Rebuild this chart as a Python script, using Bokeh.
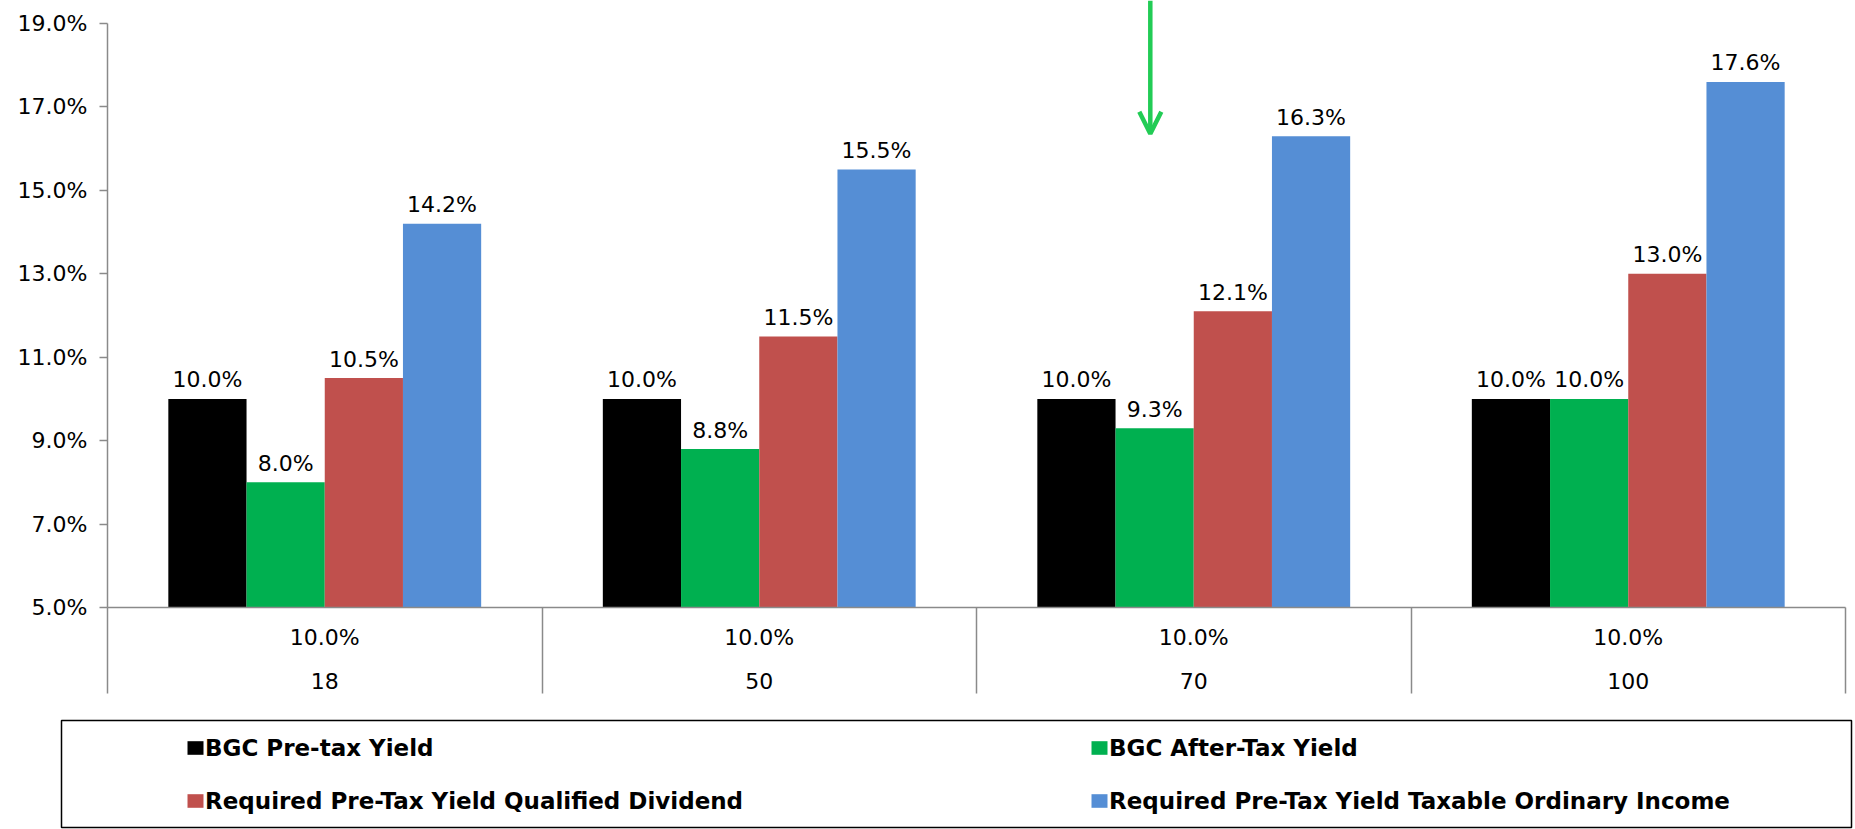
from bokeh.plotting import figure
from bokeh.models import (Range1d, LinearAxis, FixedTicker, PrintfTickFormatter,
                          Arrow, OpenHead, Legend, LegendItem, ColumnDataSource)
from bokeh.embed import file_html
from bokeh.resources import INLINE
from bokeh.core.properties import value

# ---- data -------------------------------------------------------------
categories = ["18", "50", "70", "100"]
pretax_row = ["10.0%", "10.0%", "10.0%", "10.0%"]

series_names = [
    "BGC Pre-tax Yield",
    "BGC After-Tax Yield",
    "Required Pre-Tax Yield Qualified Dividend",
    "Required Pre-Tax Yield Taxable Ordinary Income",
]
bgc_pretax = [10.0, 10.0, 10.0, 10.0]
bgc_aftertax = [8.0, 8.8, 9.3, 10.0]
req_qualified = [10.5, 11.5, 12.1, 13.0]
req_ordinary = [14.2, 15.5, 16.3, 17.6]
series_colors = ["#000000", "#00B050", "#C0504D", "#558ED5"]

y_ticks = [5, 7, 9, 11, 13, 15, 17, 19]

# ---- styling ------------------------------------------------------------
FONT = "DejaVu Sans"
AXIS_GRAY = "#8a8a8a"
ARROW_GREEN = "#22CC55"
Y_MIN, Y_MAX = 5.0, 19.553
BAR_W = 0.18
offsets = [-0.27, -0.09, 0.09, 0.27]
centers = [i + 0.5 for i in range(len(categories))]
bounds = [float(i) for i in range(len(categories) + 1)]

p = figure(width=1855, height=712,
           x_range=Range1d(0, len(categories)), y_range=Range1d(Y_MIN, Y_MAX),
           output_backend="svg", toolbar_location=None,
           x_axis_location=None, y_axis_location=None,
           min_border_left=107, min_border_right=10,
           min_border_top=0, min_border_bottom=105)
p.outline_line_color = None
p.grid.visible = False
p.background_fill_color = "white"
p.border_fill_color = "white"

# y axis: percent ticks, line stops at the top tick
yax = LinearAxis(ticker=FixedTicker(ticks=y_ticks),
                 formatter=PrintfTickFormatter(format="%.1f%%"),
                 bounds=(Y_MIN, 19))
yax.axis_line_color = AXIS_GRAY
yax.axis_line_width = 1.5
yax.major_tick_line_color = AXIS_GRAY
yax.major_tick_line_width = 1.5
yax.major_tick_out = 8
yax.major_tick_in = 0
yax.minor_tick_line_color = None
yax.major_label_standoff = 12
yax.major_label_text_font = FONT
yax.major_label_text_font_size = "22px"
yax.major_label_text_color = "black"
p.add_layout(yax, "left")

# x axis, inner row: yield label per group, long separators at group edges
xax1 = LinearAxis(ticker=FixedTicker(ticks=centers, minor_ticks=bounds),
                  major_label_overrides={c: t for c, t in zip(centers, pretax_row)})
xax1.axis_line_color = AXIS_GRAY
xax1.axis_line_width = 1.5
xax1.major_tick_line_color = None
xax1.major_tick_out = 0
xax1.major_tick_in = 0
xax1.minor_tick_line_color = AXIS_GRAY
xax1.minor_tick_line_width = 1.5
xax1.minor_tick_out = 86
xax1.minor_tick_in = 0
xax1.major_label_standoff = -69
xax1.major_label_text_font = FONT
xax1.major_label_text_font_size = "22px"
xax1.major_label_text_color = "black"
p.add_layout(xax1, "below")

# x axis, outer row: group names
xax2 = LinearAxis(ticker=FixedTicker(ticks=centers),
                  major_label_overrides={c: t for c, t in zip(centers, categories)})
xax2.axis_line_color = None
xax2.major_tick_line_color = None
xax2.minor_tick_line_color = None
xax2.major_tick_out = 0
xax2.major_tick_in = 0
xax2.major_label_standoff = 20
xax2.major_label_text_font = FONT
xax2.major_label_text_font_size = "22px"
xax2.major_label_text_color = "black"
p.add_layout(xax2, "below")

series = [bgc_pretax, bgc_aftertax, req_qualified, req_ordinary]
for vals, off, col in zip(series, offsets, series_colors):
    xs = [c + off for c in centers]
    src = ColumnDataSource(dict(x=xs, top=vals,
                                label=[f"{v:.1f}%" for v in vals]))
    p.vbar(x="x", top="top", bottom=Y_MIN, width=BAR_W, source=src,
           fill_color=col, line_color=None)
    p.text(x="x", y="top", text="label", source=src,
           text_align="center", text_baseline="alphabetic", y_offset=-19,
           text_font=value(FONT), text_font_size="22px", text_color="black")

# pointer above the after-tax bar of the "70" group
arrow_x = centers[categories.index("70")] - 0.10
p.add_layout(Arrow(end=OpenHead(size=22, line_color=ARROW_GREEN, line_width=4.5),
                   x_start=arrow_x, y_start=Y_MAX, x_end=arrow_x, y_end=16.36,
                   line_color=ARROW_GREEN, line_width=4.5))

# ---- legend panel: framed box under the chart ------------------------------
lg = figure(width=1855, height=117, x_range=Range1d(0, 1), y_range=Range1d(0, 1),
            output_backend="svg", toolbar_location=None,
            x_axis_location=None, y_axis_location=None,
            min_border_left=61, min_border_right=4,
            min_border_top=8, min_border_bottom=2)
lg.grid.visible = False
lg.outline_line_color = "black"
lg.outline_line_width = 1.5
lg.border_fill_color = "white"
lg.background_fill_color = "white"

# zero-size swatch holders so the legend can draw each series colour
items = []
for name, col in zip(series_names, series_colors):
    r = lg.vbar(x=[0], top=[0], bottom=[0], width=0, fill_color=col, line_color=None)
    items.append(LegendItem(label=name, renderers=[r]))

leg = Legend(items=items, orientation="horizontal", ncols=2,
             location=(124, 13.5), padding=0, margin=0, spacing=27,
             border_line_color=None, background_fill_alpha=0,
             glyph_width=20, glyph_height=17, label_standoff=0,
             label_width=857, label_height=26,
             label_text_font=FONT, label_text_font_style="bold",
             label_text_font_size="23px", label_text_color="black")
lg.add_layout(leg)

open("out.html", "w").write(file_html([p, lg], INLINE))
